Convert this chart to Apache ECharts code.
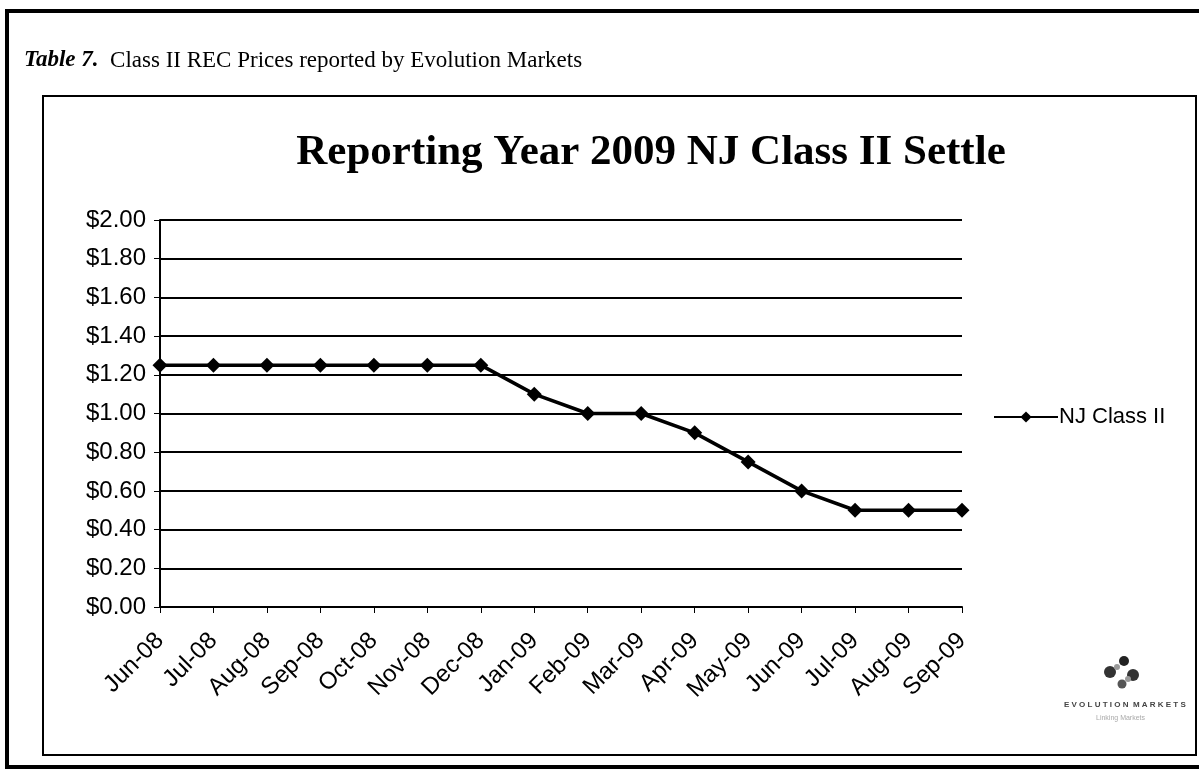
<!DOCTYPE html>
<html>
<head>
<meta charset="utf-8">
<style>
  html, body { margin: 0; padding: 0; background: #fff; }
  #chart { width: 1199px; height: 770px; }
</style>
<script src="https://cdn.jsdelivr.net/npm/echarts@6/dist/echarts.min.js"></script>
</head>
<body>
<div id="chart"></div>
<script>
// Monthly settle prices, Jun-08 to Sep-09
const months = ['Jun-08', 'Jul-08', 'Aug-08', 'Sep-08', 'Oct-08', 'Nov-08', 'Dec-08',
  'Jan-09', 'Feb-09', 'Mar-09', 'Apr-09', 'May-09', 'Jun-09', 'Jul-09', 'Aug-09', 'Sep-09'];
const njClassII = [1.25, 1.25, 1.25, 1.25, 1.25, 1.25, 1.25,
  1.10, 1.00, 1.00, 0.90, 0.75, 0.60, 0.50, 0.50, 0.50];
const seriesName = 'NJ Class II';
const yMin = 0, yMax = 2, yStep = 0.2;

const chart = echarts.init(document.getElementById('chart'));
const sans = '"Liberation Sans", Arial, sans-serif';
const serif = '"Liberation Serif", "Times New Roman", serif';

chart.setOption({
  backgroundColor: '#fff',
  animation: false,
  title: [{
    text: '{b|Table 7.}  Class II REC Prices reported by Evolution Markets',
    left: 19, top: 44,
    textStyle: {
      fontFamily: serif, fontSize: 23, fontWeight: 'normal', color: '#000',
      rich: { b: { fontFamily: serif, fontSize: 23, fontWeight: 'bold', fontStyle: 'italic', color: '#000' } }
    }
  }, {
    text: 'Reporting Year 2009 NJ Class II Settle',
    left: 646, textAlign: 'center', top: 126,
    textStyle: { fontFamily: serif, fontSize: 43, fontWeight: 'bold', color: '#000' }
  }],
  legend: {
    data: [seriesName],
    orient: 'vertical',
    left: 988, top: 401,
    itemWidth: 64, itemHeight: 14, itemGap: 0,
    textStyle: { fontFamily: sans, fontSize: 22, color: '#000', padding: [0, 0, 0, -4] }
  },
  grid: { left: 160, right: 237, top: 220, bottom: 163, containLabel: false },
  xAxis: {
    type: 'category',
    data: months,
    boundaryGap: false,
    axisLine: { lineStyle: { color: '#000', width: 2 } },
    axisTick: { show: true, inside: false, length: 6, lineStyle: { color: '#000', width: 1 } },
    axisLabel: {
      rotate: 45, margin: 30, interval: 0,
      fontFamily: sans, fontSize: 24, color: '#000'
    },
    splitLine: { show: false }
  },
  yAxis: {
    type: 'value',
    min: yMin, max: yMax, interval: yStep,
    axisLine: { show: true, lineStyle: { color: '#000', width: 2 } },
    axisTick: { show: true, length: 6, lineStyle: { color: '#000', width: 1 } },
    axisLabel: {
      margin: 14,
      fontFamily: sans, fontSize: 24, color: '#000',
      formatter: v => '$' + v.toFixed(2)
    },
    splitLine: { show: true, lineStyle: { color: '#000', width: 2 } }
  },
  series: [{
    name: seriesName,
    type: 'line',
    data: njClassII,
    symbol: 'diamond',
    symbolSize: 15,
    itemStyle: { color: '#000' },
    lineStyle: { color: '#000', width: 3.5 }
  }],
  graphic: [
    // outer page frame
    { type: 'rect', shape: { x: 7, y: 11, width: 1200, height: 756 },
      style: { fill: null, stroke: '#000', lineWidth: 4 }, silent: true },
    // chart area frame
    { type: 'rect', shape: { x: 43, y: 96, width: 1153, height: 659 },
      style: { fill: null, stroke: '#000', lineWidth: 2 }, silent: true },
    // Evolution Markets logo mark
    { type: 'group', left: 1104, top: 656, silent: true, children: [
      { type: 'circle', shape: { cx: 22, cy: 8, r: 5 }, style: { fill: '#222' } },
      { type: 'circle', shape: { cx: 8, cy: 19, r: 6 }, style: { fill: '#333' } },
      { type: 'circle', shape: { cx: 31, cy: 22, r: 6 }, style: { fill: '#333' } },
      { type: 'circle', shape: { cx: 20, cy: 31, r: 4.5 }, style: { fill: '#555' } },
      { type: 'circle', shape: { cx: 15, cy: 14, r: 3 }, style: { fill: '#999' } },
      { type: 'circle', shape: { cx: 26, cy: 26, r: 3 }, style: { fill: '#999' } }
    ]},
    { type: 'text', left: 1064, top: 701, silent: true,
      style: { text: 'E V O L U T I O N  M A R K E T S', fill: '#444', font: 'bold 8px ' + sans } },
    { type: 'text', left: 1096, top: 715, silent: true,
      style: { text: 'Linking Markets', fill: '#aaa', font: '7px ' + sans } }
  ]
});
</script>
</body>
</html>
